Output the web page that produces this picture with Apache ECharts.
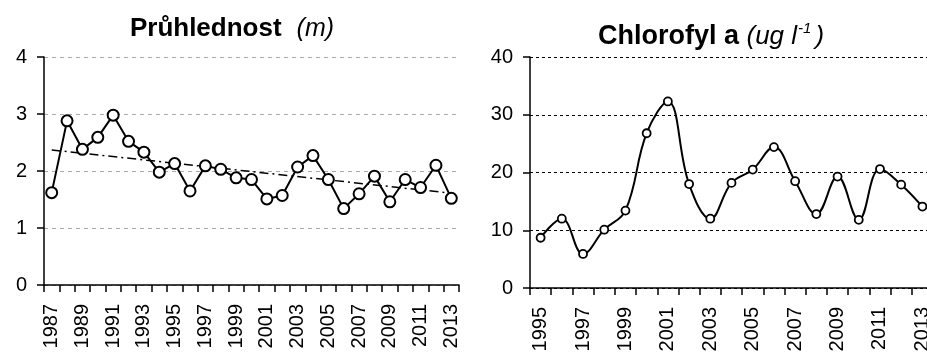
<!DOCTYPE html>
<html>
<head>
<meta charset="utf-8">
<script src="https://cdn.jsdelivr.net/npm/echarts@6/dist/echarts.min.js"></script>
<style>
html,body{margin:0;padding:0;background:#fff;}
#c{width:927px;height:353px;}
</style>
</head>
<body>
<div id="c"></div>
<script>
var yearsLeft = ['1987','1988','1989','1990','1991','1992','1993','1994','1995','1996','1997','1998','1999','2000','2001','2002','2003','2004','2005','2006','2007','2008','2009','2010','2011','2012','2013'];
var transparency = [1.62,2.88,2.38,2.59,2.98,2.52,2.33,1.98,2.13,1.65,2.09,2.03,1.88,1.85,1.51,1.57,2.07,2.27,1.85,1.34,1.60,1.91,1.46,1.85,1.71,2.10,1.52];
var transparencyTrend = [2.37,null,null,null,null,null,null,null,null,null,null,null,null,null,null,null,null,null,null,null,null,null,null,null,null,null,1.61];
var yearsRight = ['1995','1996','1997','1998','1999','2000','2001','2002','2003','2004','2005','2006','2007','2008','2009','2010','2011','2012','2013'];
var chlorophyll = [8.7,12.0,5.9,10.1,13.4,26.8,32.3,18.0,12.0,18.2,20.5,24.4,18.5,12.8,19.3,11.8,20.6,17.9,14.1];
var leftTicks = {min:0, max:4, interval:1};
var rightTicks = {min:0, max:40, interval:10};

var FF = "'Liberation Sans', Arial, sans-serif";
var chart = echarts.init(document.getElementById('c'), null, {renderer:'canvas'});
var axisLabelY = {color:'#000', fontSize:20, fontFamily:FF, margin:17};
var axisLabelX = {color:'#000', fontSize:20, fontFamily:FF, rotate:90, interval:1, margin:19};
chart.setOption({
  animation:false,
  backgroundColor:'#fff',
  title:[
    {text:'{b|Průhlednost}   {i|(m)}', left:227, top:11, textAlign:'center',
     textStyle:{fontWeight:'normal', rich:{b:{fontSize:26,fontWeight:'bold',fontFamily:FF,color:'#000'},
                      i:{fontSize:25,fontStyle:'italic',fontWeight:'normal',fontFamily:FF,color:'#000'}}}},
    {text:'{b|Chlorofyl a }{i|(ug l}{s|-1}{i|)}', left:706, top:16, textAlign:'center',
     textStyle:{fontWeight:'normal', rich:{b:{fontSize:27,fontWeight:'bold',fontFamily:FF,color:'#000',lineHeight:32},
                      i:{fontSize:26,fontStyle:'italic',fontWeight:'normal',fontFamily:FF,color:'#000',lineHeight:32},
                      s:{fontSize:15,fontStyle:'italic',fontWeight:'normal',fontFamily:FF,color:'#000',verticalAlign:'top',lineHeight:32,padding:[0,4,0,1]}}}}
  ],
  grid:[
    {left:44, top:57, width:415, height:228, outerBoundsMode:'none'},
    {left:530, top:57, width:403, height:231, outerBoundsMode:'none'}
  ],
  xAxis:[
    {type:'category', gridIndex:0, data:yearsLeft, boundaryGap:true,
     axisLine:{lineStyle:{color:'#000',width:1.5}},
     axisTick:{show:true, interval:0, length:7, lineStyle:{color:'#000',width:1.5}},
     axisLabel:axisLabelX, splitLine:{show:false}},
    {type:'category', gridIndex:1, data:yearsRight, boundaryGap:true,
     axisLine:{lineStyle:{color:'#000',width:1.5}},
     axisTick:{show:true, interval:0, length:7, lineStyle:{color:'#000',width:1.5}},
     axisLabel:axisLabelX, splitLine:{show:false}}
  ],
  yAxis:[
    {type:'value', gridIndex:0, min:leftTicks.min, max:leftTicks.max, interval:leftTicks.interval,
     axisLine:{show:true, lineStyle:{color:'#000',width:1.5}},
     axisTick:{show:true, length:7, lineStyle:{color:'#000',width:1.5}},
     axisLabel:axisLabelY,
     splitLine:{show:true, lineStyle:{color:'#aaa', type:[4,4], width:1}}},
    {type:'value', gridIndex:1, min:rightTicks.min, max:rightTicks.max, interval:rightTicks.interval,
     axisLine:{show:true, lineStyle:{color:'#000',width:1.5}},
     axisTick:{show:true, length:7, lineStyle:{color:'#000',width:1.5}},
     axisLabel:axisLabelY,
     splitLine:{show:true, lineStyle:{color:'#000', type:[3,3], width:1}}}
  ],
  series:[
    {type:'line', xAxisIndex:0, yAxisIndex:0, data:transparencyTrend, connectNulls:true,
     symbol:'none', lineStyle:{color:'#000', width:1.5, type:[9,4,2,4]}, z:2},
    {type:'line', xAxisIndex:0, yAxisIndex:0, data:transparency,
     symbol:'circle', symbolSize:11, showAllSymbol:true,
     itemStyle:{color:'#fff', borderColor:'#000', borderWidth:2},
     lineStyle:{color:'#000', width:2}, z:3},
    {type:'line', xAxisIndex:1, yAxisIndex:1, data:chlorophyll, smooth:0.4,
     symbol:'circle', symbolSize:8, showAllSymbol:true,
     itemStyle:{color:'#fff', borderColor:'#000', borderWidth:1.8},
     lineStyle:{color:'#000', width:2}, z:3}
  ]
});
</script>
</body>
</html>
